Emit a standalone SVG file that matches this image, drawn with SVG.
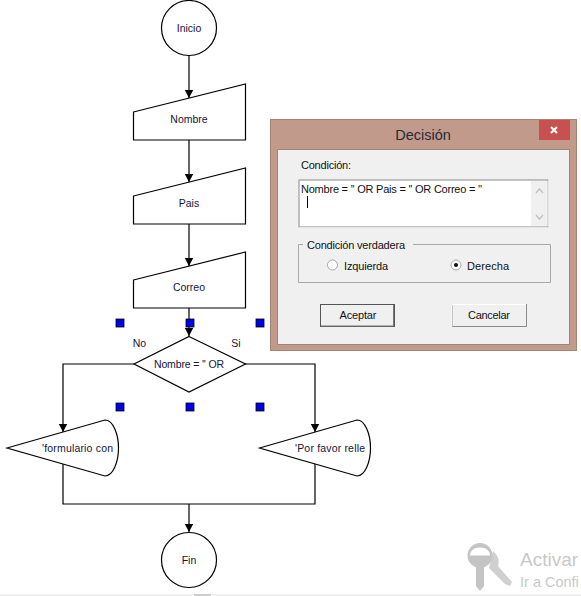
<svg xmlns="http://www.w3.org/2000/svg" width="581" height="596" viewBox="0 0 581 596">
<style>
.s{fill:#fff;stroke:#000;stroke-width:1.2}
.c{fill:none;stroke:#000;stroke-width:1.2}
.h{fill:#0000e6;stroke:#000;stroke-width:.8}
text{font-family:"Liberation Sans",Arial,sans-serif}
.n{font-size:10.5px;fill:#14143c;text-anchor:middle}
.d{font-size:11px;fill:#111}
.m{text-anchor:middle}
</style>
<defs>
<marker id="a" markerUnits="userSpaceOnUse" markerWidth="10" markerHeight="10" refX="8.500" refY="4.500" orient="auto"><path d="M0 0L8.500 4.500L0 9z" fill="#000"/></marker>
</defs>
<rect width="581" height="596" fill="#fff"/>
<g id="connectors">
<path class="c" marker-end="url(#a)" d="M189 55V98"/>
<path class="c" marker-end="url(#a)" d="M189 140V182"/>
<path class="c" marker-end="url(#a)" d="M189 224V266"/>
<path class="c" marker-end="url(#a)" d="M189 308V336"/>
<path class="c" marker-end="url(#a)" d="M134 364H63V432"/>
<path class="c" marker-end="url(#a)" d="M245 364H315V432"/>
<path class="c" d="M63 464V504H315V464"/>
<path class="c" marker-end="url(#a)" d="M189 504V532"/>
</g>
<g id="inicio"><circle class="s" cx="189" cy="28" r="27.5"/><text class="n" x="189" y="32">Inicio</text></g>
<g id="nombre"><path class="s" d="M133.500 112L245.500 84V140H133.500z"/><text class="n" x="189" y="123">Nombre</text></g>
<g id="pais"><path class="s" d="M133.500 196L245.500 168V224H133.500z"/><text class="n" x="189" y="207">Pais</text></g>
<g id="correo"><path class="s" d="M133.500 280L245.500 252V308H133.500z"/><text class="n" x="189" y="291">Correo</text></g>
<g id="decision"><path class="s" d="M189 336.500L245.500 364L189 392L134 364z"/><text class="n" x="189" y="368" textLength="70">Nombre = '' OR</text>
<text class="n" x="139.500" y="347">No</text><text class="n" x="236" y="347">Si</text></g>
<g id="salida1"><path class="s" d="M7 448L105 420C113 420 118.500 434 118.500 448C118.500 462 113 476 105 476z"/><text class="n" x="77.500" y="452" textLength="71">'formulario con</text></g>
<g id="salida2"><path class="s" d="M259.500 448L357 420C365 420 370.500 434 370.500 448C370.500 462 365 476 357 476z"/><text class="n" x="330" y="452" textLength="70">'Por favor relle</text></g>
<g id="fin"><circle class="s" cx="189" cy="560" r="27.5"/><text class="n" x="189" y="564">Fin</text></g>
<g id="handles">
<rect class="h" x="116" y="319" width="8" height="8"/><rect class="h" x="186" y="319" width="8" height="8"/><rect class="h" x="256" y="319" width="8" height="8"/>
<rect class="h" x="116" y="403" width="8" height="8"/><rect class="h" x="186" y="403" width="8" height="8"/><rect class="h" x="256" y="403" width="8" height="8"/>
</g>
<g id="dialog">
<rect x="270.500" y="119.500" width="306" height="231" fill="#c19a8c" stroke="#a38476"/>
<rect x="539" y="120" width="31" height="20" fill="#c75050"/>
<path d="M551 127l6 6m0-6l-6 6" stroke="#fff" stroke-width="2" fill="none"/>
<text x="423" y="140" class="m" font-size="14.500" fill="#2a2a35">Decisión</text>
<rect x="277.500" y="149.500" width="292" height="195" fill="#f0f0f0" stroke="#a38476"/>
<text class="d" x="301" y="169" textLength="50">Condición:</text>
<rect x="299" y="180" width="249" height="47" fill="#fff" stroke="#8a8a8a"/>
<path d="M548.500 180V227.500H299" fill="none" stroke="#e3e3e3"/>
<rect x="531" y="181" width="16.500" height="45" fill="#f0f0f0"/>
<path d="M536 193l3.500-4l3.500 4M536 215l3.500 4l3.500-4" fill="none" stroke="#c4c4c4" stroke-width="1.500"/>
<text class="d" x="301" y="193" textLength="181">Nombre = '' OR Pais = '' OR Correo = ''</text>
<path d="M307.500 196V208" stroke="#000"/>
<path d="M303 244.500H298.500V282.500H550.500V244.500H413" fill="none" stroke="#a9a9a9"/>
<text class="d" x="307" y="249" textLength="98">Condición verdadera</text>
<circle cx="332.500" cy="265" r="5" fill="#fff" stroke="#a9a9a9"/>
<text class="d" x="344" y="270" textLength="44">Izquierda</text>
<circle cx="456" cy="265" r="5" fill="#fff" stroke="#a9a9a9"/>
<circle cx="456" cy="265" r="2" fill="#111"/>
<text class="d" x="467" y="270" textLength="42">Derecha</text>
<g id="aceptar"><rect x="320.500" y="304.500" width="74" height="22" fill="#f0f0f0" stroke="#555"/><path d="M393.500 305V326H321" fill="none" stroke="#777"/><text class="d m" x="358" y="319" textLength="37">Aceptar</text></g>
<g id="cancelar"><rect x="452.500" y="304.500" width="74" height="22" fill="#f0f0f0" stroke="#8a8a8a"/><path d="M452 326.500V304.500H526" fill="none" stroke="#fff"/><text class="d m" x="489" y="319" textLength="42">Cancelar</text></g>
</g>
<g id="watermark">
<path d="M493 551C498 555 500 561 498 566L512 582L510 586L505 584L501 580L489 568z" fill="#d0d0d0"/>
<circle cx="480" cy="555.500" r="12.500" fill="#c4c4c4" stroke="#fff" stroke-width="0"/>
<path d="M470 555.500C470 551 474 547.500 480 547.500C486 547.500 490 551 490 555.500z" fill="#fff"/>
<path d="M476 566V586L480 591L484 586V566z" fill="#c4c4c4"/>
<text x="520" y="566" font-size="19" fill="#c9c9c9">Activar</text>
<text x="520" y="587" font-size="14.500" fill="#c9c9c9">Ir a Confi</text>
</g>
<rect x="0" y="594" width="581" height="2" fill="#f0f0f0"/>
<rect x="194" y="594" width="17" height="2" fill="#cdcdcd"/>
</svg>
